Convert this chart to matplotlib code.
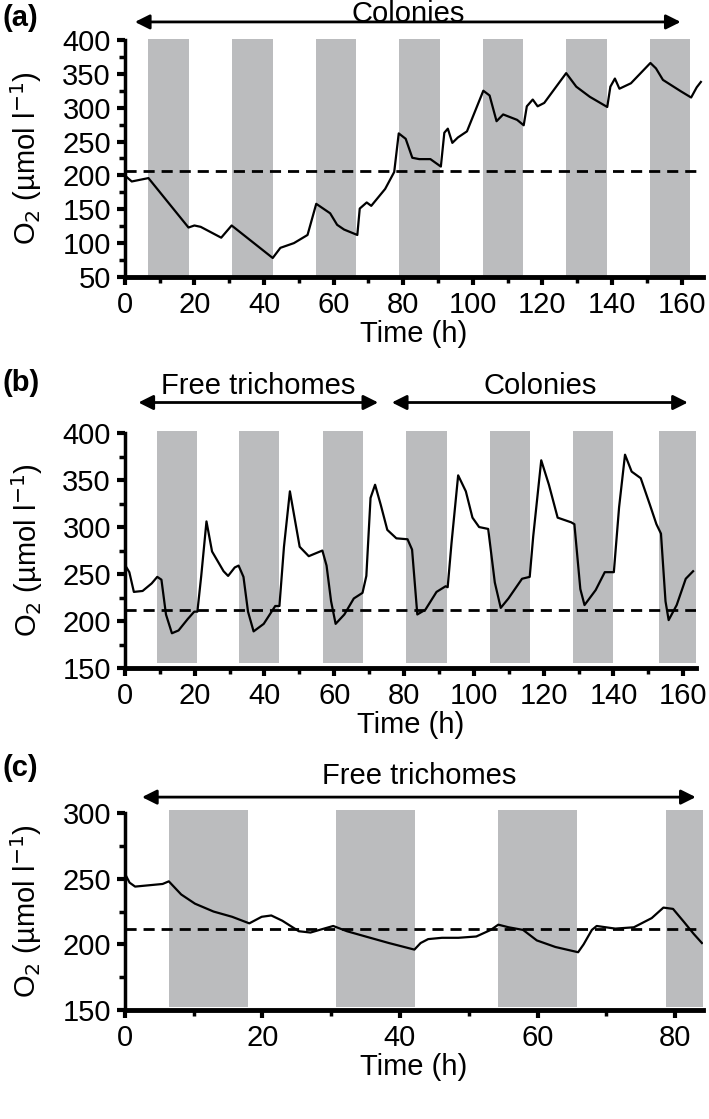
import numpy as np
import matplotlib.pyplot as plt
from matplotlib.ticker import MultipleLocator

plt.rcParams['font.family'] = ['Liberation Sans', 'DejaVu Sans']

# ---- panel (a): colonies ----
time_a = [0, 2, 6.8, 18.3, 20, 21.8, 27.7, 30.7, 42.5, 44.7, 48.6, 52.5, 55, 59, 61, 63,
          66.8, 67.5, 69.5, 70.8, 74.8, 77.4, 78.7, 80.7, 82.6, 84.6, 87.8, 90.8, 91.8,
          92.8, 94.1, 95.7, 98.3, 103, 104.8, 106.8, 108.7, 112.7, 114.6, 115.5, 117.2,
          118.6, 120.5, 126.8, 129.7, 133.6, 138.6, 139.5, 140.8, 142.1, 145.4, 151,
          152.6, 154.6, 159.8, 162.7, 164.3, 165.5]
o2_a = [200, 191, 196, 123, 126, 124, 108, 126, 78, 93, 100, 112, 158, 144, 127, 120,
        112, 151, 160, 155, 180, 205, 262, 254, 226, 224, 224, 213, 263,
        269, 248, 256, 265, 325, 318, 280, 290, 282, 274, 302, 312,
        302, 307, 351, 331, 316, 301, 331, 343, 328, 336, 366,
        358, 341, 324, 315, 330, 338]
dark_a = [6.8, 30.8, 54.8, 78.8, 102.8, 126.8, 150.8]
dark_len_a = 11.7
ref_a = 206

# ---- panel (b): free trichomes then colonies ----
time_b = [0, 1.3, 2.6, 5.1, 7.7, 9.3, 10.5, 11.8, 13.5, 15.4, 18, 19.9, 20.8, 21.9, 23.4,
          25, 28.3, 29.6, 31.5, 32.6, 34, 35.3, 36.9, 39.8, 43.1, 44.3, 45.6, 47.3, 48.2,
          50.1, 52.7, 56.6, 57.8, 59.1, 60.4, 62.9, 65.6, 68.1, 69.2, 70.4, 71.7, 73.3,
          75.2, 77.8, 81, 82.3, 83.8, 86.1, 89.3, 91.9, 92.5, 93.6, 95.5, 97.7, 99.6,
          101.5, 104.1, 106, 107.7, 109.9, 113.8, 116, 117, 119.3, 121.5, 124, 127.9,
          128.8, 130.5, 131.7, 134.9, 137.5, 140.1, 141.6, 143.3, 145.2, 147.8, 150.4,
          152.3, 153.6, 154.9, 155.8, 158.1, 160.7, 162.8]
o2_b = [260, 252, 231, 232, 240, 247, 244, 207, 187, 190, 202, 210, 210, 248, 306,
        274, 253, 248, 257, 259, 247, 210, 189, 197, 216, 216, 279, 338, 319,
        279, 269, 275, 259, 221, 197, 207, 224, 230, 248, 331, 345, 324,
        297, 288, 287, 276, 207, 212, 231, 237, 236, 283, 355, 338, 310,
        300, 298, 241, 214, 224, 245, 247, 290, 371, 345, 310, 305,
        303, 234, 217, 233, 252, 252, 321, 377, 359, 352, 324,
        303, 293, 221, 201, 217, 245, 253]
dark_b = [9.3, 32.6, 56.7, 80.7, 104.5, 128.5, 152.9]
dark_len_b = 11.5
ref_b = 212

# ---- panel (c): free trichomes ----
time_c = [0, 0.7, 1.5, 3.5, 5.5, 6.4, 8.2, 10.2, 12.9, 15.6, 18.1, 19.9, 21.3, 22.9,
          25.3, 27, 28.3, 30.3, 32.3, 35, 38.4, 42.1, 43, 44.1, 46.1, 48.5, 51.1, 53.2,
          54.3, 55.8, 57.9, 59.9, 62.6, 65.9, 66.7, 67.9, 68.6, 71.3, 74, 76.6, 78.3,
          79.7, 81.3, 82.7, 83.9]
o2_c = [254, 247, 244, 245, 246, 248, 238, 231, 225, 221, 216, 221, 222, 218,
        210, 209, 211, 214, 210, 206, 201, 196, 201, 204, 205, 205, 206, 211,
        215, 213, 211, 203, 198, 194, 200, 211, 214, 212, 213, 220, 228,
        227, 217, 208, 201]
dark_c = [6.4, 30.7, 54.3, 78.7]
dark_len_c = 11.5
ref_c = 212

grey = '#bbbcbe'
fs = 21

fig = plt.figure(figsize=(7.09, 11.19), dpi=100)


def panel(rect, t, o2, dark, dlen, ref, ylim, xlim, band_lo, band_hi,
          arrows, arrow_y, text_y, letter, letter_y):
    ax = fig.add_axes(rect)
    for d in dark:
        w = min(dlen, xlim[1] - d)
        ax.bar(d, band_hi - band_lo, width=w, bottom=band_lo, align='edge',
               color=grey, linewidth=0, clip_on=False, zorder=1)
    ax.axhline(ref, color='black', lw=2, dashes=(4, 2.5), zorder=2)
    ax.plot(t, o2, color='black', lw=1.6, zorder=3)
    ax.set_xlim(*xlim)
    ax.set_ylim(*ylim)
    ax.xaxis.set_major_locator(MultipleLocator(20))
    ax.xaxis.set_minor_locator(MultipleLocator(10))
    ax.yaxis.set_major_locator(MultipleLocator(50))
    ax.yaxis.set_minor_locator(MultipleLocator(25))
    for s in ['top', 'right']:
        ax.spines[s].set_visible(False)
    ax.spines['left'].set_linewidth(2.5)
    ax.spines['bottom'].set_linewidth(3.5)
    ax.tick_params(which='major', direction='out', length=6, width=3,
                   labelsize=fs, pad=4)
    ax.tick_params(which='minor', direction='out', length=4, width=2.5)
    ax.set_xlabel('Time (h)', fontsize=fs, labelpad=1)
    ax.set_ylabel('O$_2$ (µmol l$^{-1}$)', fontsize=fs)
    ax.yaxis.set_label_coords(-0.14, 0.5)
    for (x0, x1, label) in arrows:
        ax.annotate('', xy=(x0, arrow_y), xytext=(x1, arrow_y),
                    xycoords=('data', 'axes fraction'),
                    arrowprops=dict(arrowstyle='<|-|>', color='black', lw=2,
                                    mutation_scale=22, shrinkA=0, shrinkB=0),
                    annotation_clip=False)
        ax.text((x0 + x1) / 2, text_y, label, transform=ax.get_xaxis_transform(),
                ha='center', va='center', fontsize=fs, clip_on=False)
    fig.text(0.004, letter_y, letter, fontsize=fs, fontweight='bold',
             ha='left', va='center')
    return ax


L = 0.176
panel([L, 0.7525, 0.815, 0.2118], time_a, o2_a, dark_a, dark_len_a, ref_a,
      (50, 400), (0, 166), 50, 401, [(2.9, 159.7, 'Colonies')],
      1.076, 1.11, '(a)', 0.984)
panel([L, 0.403, 0.805, 0.21], time_b, o2_b, dark_b, dark_len_b, ref_b,
      (150, 400), (0, 163.5), 155, 402,
      [(3.9, 72.6, 'Free trichomes'), (76.5, 161.3, 'Colonies')],
      1.13, 1.2, '(b)', 0.658)
panel([L, 0.0974, 0.815, 0.176], time_c, o2_c, dark_c, dark_len_c, ref_c,
      (150, 300), (0, 84), 152, 302, [(2.5, 83, 'Free trichomes')],
      1.081, 1.19, '(c)', 0.314)

plt.savefig('out.png', dpi=100)
